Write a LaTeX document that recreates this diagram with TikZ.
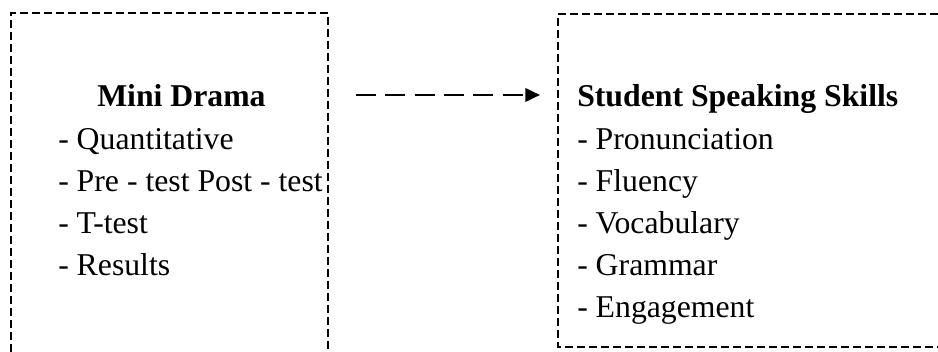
\documentclass[tikz,border=0pt]{standalone}
\usepackage{fontspec}
\setmainfont{Liberation Serif}
\usetikzlibrary{arrows.meta}
\begin{document}
\begin{tikzpicture}[x=0.75pt,y=-0.75pt,
  boxline/.style={line width=0.8pt, dash pattern=on 6pt off 3pt},
  txt/.style={anchor=base west, inner sep=0pt, font=\fontsize{23.8}{28}\selectfont},
  head/.style={anchor=base west, inner sep=0pt, font=\fontsize{23.8}{28}\selectfont\bfseries},
  flow/.style={line width=2pt, dash pattern=on 15pt off 7pt, -{Triangle[length=11pt,width=10pt]}}]
\useasboundingbox (0,0) rectangle (938,352);
% left box (open at bottom)
\draw[boxline] (11,352) -- (11,13) -- (328,13) -- (328,352);
% right box (open at right)
\draw[boxline] (938,14) -- (558,14) -- (558,347) -- (938,347);
% left texts
\node[head] (mini) at (97,107) {Mini Drama};
\node[txt] (l1) at (58,150) {- Quantitative};
\node[txt] (l2) at (58,192) {- Pre - test Post - test};
\node[txt] (l3) at (58,234) {- T-test};
\node[txt] (l4) at (58,276) {- Results};
% right texts
\node[head] (sss) at (577,107) {Student Speaking Skills};
\node[txt] (r1) at (577,150) {- Pronunciation};
\node[txt] (r2) at (577,192) {- Fluency};
\node[txt] (r3) at (577,234) {- Vocabulary};
\node[txt] (r4) at (577,276) {- Grammar};
\node[txt] (r5) at (577,318) {- Engagement};
% arrow
\coordinate (a0) at (356,95);
\coordinate (a1) at (540,95);
\draw[flow] (a0) -- (a1);
\end{tikzpicture}
\end{document}
